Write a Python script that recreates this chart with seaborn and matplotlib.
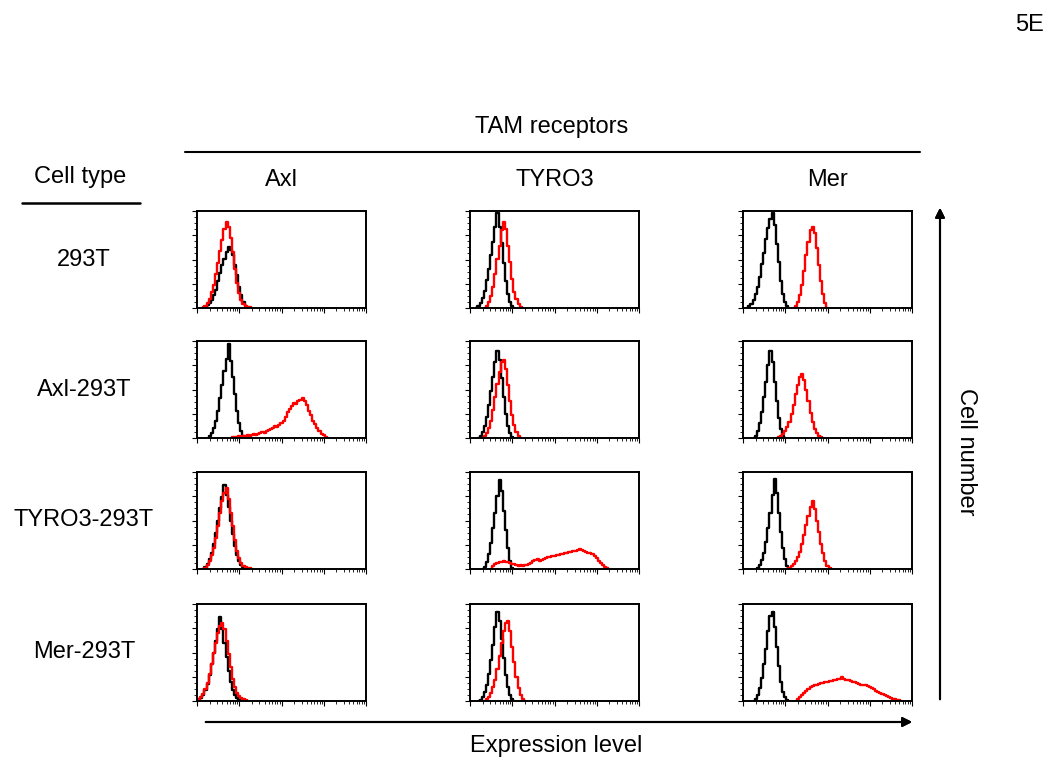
import numpy as np
import pandas as pd
import matplotlib
matplotlib.use("Agg")
import matplotlib.pyplot as plt
from matplotlib.lines import Line2D
from matplotlib.ticker import LogLocator, MultipleLocator, NullFormatter
import seaborn as sns

## flow cytometry overlays: TAM receptor staining on 293T lines
## black = control staining, red = receptor staining
## values = % of axis height, sampled every 0.05 log10 units starting at *_start

cell_types = ["293T", "Axl-293T", "TYRO3-293T", "Mer-293T"]
receptors = ["Axl", "TYRO3", "Mer"]
STEP = 0.05

# row 1: 293T
ctrl_293t_axl_start, ctrl_293t_axl = 0.20, [1, 3, 5, 8, 13, 19, 28, 36, 44, 51, 58, 63, 60, 55, 44, 34, 22, 13, 6, 2, 0]
stain_293t_axl_start, stain_293t_axl = 0.15, [1, 2, 5, 9, 16, 24, 35, 46, 59, 70, 81, 89, 83, 72, 58, 40, 26, 15, 8, 4, 2, 1, 1, 0]
ctrl_293t_tyro3_start, ctrl_293t_tyro3 = 0.15, [0, 2, 5, 10, 18, 29, 40, 55, 68, 83, 98, 84, 67, 46, 28, 14, 6, 2, 0]
stain_293t_tyro3_start, stain_293t_tyro3 = 0.35, [0, 2, 6, 12, 22, 35, 51, 64, 80, 89, 81, 64, 47, 30, 17, 9, 4, 1, 0]
ctrl_293t_mer_start, ctrl_293t_mer = 0.10, [0, 2, 4, 8, 14, 22, 32, 45, 57, 71, 82, 92, 98, 86, 66, 47, 28, 14, 6, 2, 0]
stain_293t_mer_start, stain_293t_mer = 1.20, [0, 2, 6, 13, 24, 38, 55, 68, 80, 84, 77, 62, 44, 28, 14, 5, 0]

# row 2: Axl-293T
ctrl_axl_axl_start, ctrl_axl_axl = 0.25, [0, 2, 5, 10, 18, 28, 41, 55, 69, 81, 97, 79, 63, 45, 28, 15, 7, 2, 0]
stain_axl_axl_start, stain_axl_axl = 0.80, [0, 1, 1, 1, 2, 1, 2, 2, 3, 2, 3, 4, 3, 4, 5, 6, 5, 7, 8, 9, 10, 12, 11, 13,
                                             15, 18, 22, 27, 30, 33, 36, 35, 38, 39, 41, 38, 34, 28, 24, 18, 14, 10, 7, 4, 3, 1, 0]
ctrl_axl_tyro3_start, ctrl_axl_tyro3 = 0.20, [0, 2, 6, 12, 22, 34, 48, 63, 78, 90, 80, 62, 42, 25, 12, 5, 1, 0]
stain_axl_tyro3_start, stain_axl_tyro3 = 0.30, [0, 2, 5, 10, 18, 29, 42, 56, 68, 78, 80, 71, 55, 38, 24, 13, 6, 2, 0]
ctrl_axl_mer_start, ctrl_axl_mer = 0.25, [0, 2, 7, 15, 27, 42, 58, 75, 90, 78, 58, 38, 21, 9, 2, 0]
stain_axl_mer_start, stain_axl_mer = 0.80, [0, 1, 2, 4, 7, 11, 17, 25, 34, 45, 55, 63, 66, 60, 50, 38, 26, 16, 9, 5, 2, 1, 0]

# row 3: TYRO3-293T
ctrl_tyro3_axl_start, ctrl_tyro3_axl = 0.15, [0, 2, 5, 10, 17, 26, 37, 50, 63, 74, 87, 76, 64, 50, 36, 24, 14, 8, 4, 2, 1, 0]
stain_tyro3_axl_start, stain_tyro3_axl = 0.15, [0, 1, 4, 8, 14, 22, 32, 44, 58, 70, 78, 84, 72, 58, 44, 30, 19, 11, 6, 3, 2, 1, 1, 0]
ctrl_tyro3_tyro3_start, ctrl_tyro3_tyro3 = 0.30, [0, 2, 7, 15, 27, 42, 58, 75, 92, 80, 60, 40, 22, 8, 1, 0]
stain_tyro3_tyro3_start, stain_tyro3_tyro3 = 0.50, [0, 3, 5, 6, 7, 7, 8, 7, 7, 6, 5, 5, 4, 3, 4, 3, 4, 4, 5, 6, 8, 9,
                                                     10, 8, 9, 10, 11, 12, 12, 13, 13, 14, 14, 15, 15, 16, 17, 18, 18,
                                                     19, 19, 20, 21, 20, 19, 18, 17, 16, 15, 13, 11, 8, 6, 4, 2, 1, 0]
ctrl_tyro3_mer_start, ctrl_tyro3_mer = 0.30, [0, 1, 4, 9, 17, 28, 42, 58, 76, 93, 78, 58, 38, 22, 10, 3, 0]
stain_tyro3_mer_start, stain_tyro3_mer = 1.05, [0, 1, 3, 5, 8, 12, 18, 26, 35, 45, 55, 64, 70, 62, 50, 38, 26, 16, 8, 3, 1, 0]

# row 4: Mer-293T
ctrl_mer_axl_start, ctrl_mer_axl = 0.00, [0, 1, 3, 6, 11, 18, 27, 38, 50, 62, 74, 87, 74, 60, 45, 31, 20, 11, 6, 3, 1, 0]
stain_mer_axl_start, stain_mer_axl = 0.00, [0, 2, 4, 7, 12, 19, 28, 38, 49, 60, 70, 77, 80, 74, 62, 48, 35, 23, 14, 8, 5, 3, 2, 1, 0]
ctrl_mer_tyro3_start, ctrl_mer_tyro3 = 0.20, [0, 1, 4, 9, 17, 28, 42, 58, 76, 92, 82, 64, 44, 27, 14, 6, 2, 0]
stain_mer_tyro3_start, stain_mer_tyro3 = 0.35, [0, 2, 4, 8, 14, 22, 33, 46, 60, 72, 80, 82, 72, 56, 40, 25, 13, 6, 2, 0]
ctrl_mer_mer_start, ctrl_mer_mer = 0.25, [0, 2, 6, 13, 24, 38, 54, 72, 88, 92, 76, 56, 36, 20, 9, 4, 1, 0]
stain_mer_mer_start, stain_mer_mer = 1.25, [0, 2, 4, 6, 8, 10, 12, 14, 15, 16, 17, 18, 19, 19, 20, 20, 21, 21, 22, 22, 23,
                                            23, 25, 23, 22, 22, 21, 20, 20, 19, 18, 17, 17, 16, 15, 14, 13, 12, 10, 9,
                                            8, 7, 6, 5, 4, 3, 2, 2, 1, 1, 0]

panels = [
    [(ctrl_293t_axl_start, ctrl_293t_axl, stain_293t_axl_start, stain_293t_axl),
     (ctrl_293t_tyro3_start, ctrl_293t_tyro3, stain_293t_tyro3_start, stain_293t_tyro3),
     (ctrl_293t_mer_start, ctrl_293t_mer, stain_293t_mer_start, stain_293t_mer)],
    [(ctrl_axl_axl_start, ctrl_axl_axl, stain_axl_axl_start, stain_axl_axl),
     (ctrl_axl_tyro3_start, ctrl_axl_tyro3, stain_axl_tyro3_start, stain_axl_tyro3),
     (ctrl_axl_mer_start, ctrl_axl_mer, stain_axl_mer_start, stain_axl_mer)],
    [(ctrl_tyro3_axl_start, ctrl_tyro3_axl, stain_tyro3_axl_start, stain_tyro3_axl),
     (ctrl_tyro3_tyro3_start, ctrl_tyro3_tyro3, stain_tyro3_tyro3_start, stain_tyro3_tyro3),
     (ctrl_tyro3_mer_start, ctrl_tyro3_mer, stain_tyro3_mer_start, stain_tyro3_mer)],
    [(ctrl_mer_axl_start, ctrl_mer_axl, stain_mer_axl_start, stain_mer_axl),
     (ctrl_mer_tyro3_start, ctrl_mer_tyro3, stain_mer_tyro3_start, stain_mer_tyro3),
     (ctrl_mer_mer_start, ctrl_mer_mer, stain_mer_mer_start, stain_mer_mer)],
]


def to_frame(start, vals):
    # channel value for each sampled bin
    expo = start + STEP * np.arange(len(vals))
    return pd.DataFrame({"level": 10 ** expo, "count": vals})


sns.set_style("ticks")
plt.rcParams["font.family"] = ["Liberation Sans", "DejaVu Sans"]
plt.rcParams["text.color"] = "black"
plt.rcParams["xtick.color"] = "black"
plt.rcParams["ytick.color"] = "black"

W, H = 1050, 768
fig = plt.figure(figsize=(W / 100, H / 100), dpi=100)


def fx(x):
    return x / W


def fy(y):
    return 1 - y / H


col_left = [197, 470, 743]
row_top = [211, 341, 472, 604]
pw, ph = 169, 97

for r in range(4):
    for c in range(3):
        ax = fig.add_axes([fx(col_left[c]), fy(row_top[r] + ph), pw / W, ph / H])
        c_start, c_vals, s_start, s_vals = panels[r][c]
        sns.lineplot(data=to_frame(c_start, c_vals), x="level", y="count", ax=ax,
                     color="black", lw=1.7, drawstyle="steps-mid")
        sns.lineplot(data=to_frame(s_start, s_vals), x="level", y="count", ax=ax,
                     color="red", lw=1.7, drawstyle="steps-mid")
        ax.set_xscale("log")
        ax.set_xlim(1, 1e4)
        ax.set_ylim(0, 100)
        ax.set_xlabel("")
        ax.set_ylabel("")
        ax.xaxis.set_major_locator(LogLocator(base=10, numticks=10))
        ax.xaxis.set_minor_locator(LogLocator(base=10, subs=np.arange(2, 10), numticks=10))
        ax.xaxis.set_major_formatter(NullFormatter())
        ax.xaxis.set_minor_formatter(NullFormatter())
        ax.yaxis.set_major_locator(MultipleLocator(25))
        ax.yaxis.set_minor_locator(MultipleLocator(6.25))
        ax.yaxis.set_major_formatter(NullFormatter())
        ax.tick_params(axis="both", which="major", length=3.5, width=0.8, direction="out")
        ax.tick_params(axis="both", which="minor", length=2, width=0.6, direction="out")
        for sp in ax.spines.values():
            sp.set_linewidth(1.4)
            sp.set_color("black")

fs = 17
fig.text(fx(1030), fy(25), "5E", ha="center", va="center", fontsize=fs)
fig.text(fx(552), fy(127), "TAM receptors", ha="center", va="center", fontsize=fs)
fig.add_artist(Line2D([fx(185), fx(920)], [fy(152), fy(152)], color="black", lw=1.5))
fig.text(fx(80), fy(177), "Cell type", ha="center", va="center", fontsize=fs)
fig.add_artist(Line2D([fx(22), fx(140)], [fy(203), fy(203)], color="black", lw=1.8))

for c, name in enumerate(receptors):
    fig.text(fx(col_left[c] + pw / 2), fy(180), name, ha="center", va="center", fontsize=fs)
for r, name in enumerate(cell_types):
    fig.text(fx(84), fy(row_top[r] + ph / 2), name, ha="center", va="center", fontsize=fs)

# axis arrows
fig.add_artist(plt.annotate("", xy=(fx(915), fy(722)), xytext=(fx(203), fy(722)),
                            xycoords="figure fraction", textcoords="figure fraction",
                            arrowprops=dict(arrowstyle="-|>", lw=1.5, color="black", mutation_scale=14)))
fig.add_artist(plt.annotate("", xy=(fx(940), fy(205)), xytext=(fx(940), fy(702)),
                            xycoords="figure fraction", textcoords="figure fraction",
                            arrowprops=dict(arrowstyle="-|>", lw=1.5, color="black", mutation_scale=14)))
fig.text(fx(556), fy(746), "Expression level", ha="center", va="center", fontsize=fs)
fig.text(fx(966), fy(452), "Cell number", ha="center", va="center", fontsize=fs, rotation=270)

fig.savefig("out.png", dpi=100)
